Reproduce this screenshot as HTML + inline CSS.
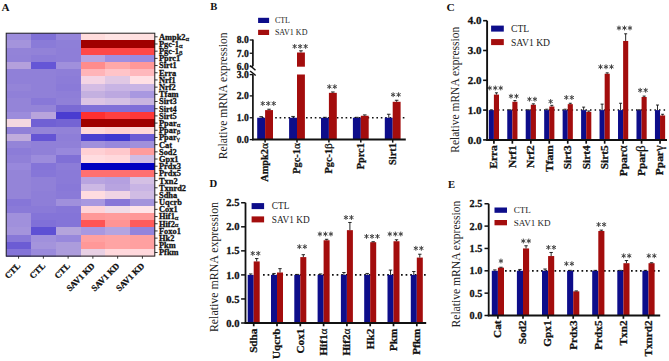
<!DOCTYPE html>
<html><head><meta charset="utf-8"><style>
html,body{margin:0;padding:0;background:#fff;}
body{width:669px;height:361px;overflow:hidden;font-family:"Liberation Serif", serif;}
svg{display:block;}
.b{stroke:#111;stroke-width:0.28px;}
</style></head><body>
<svg width="669" height="361" viewBox="0 0 669 361">
<rect width="669" height="361" fill="#fff"/>
<g id="A">
<text x="1.6" y="10.6" font-family="'Liberation Serif', serif" font-weight="bold" font-size="11.2" fill="#111">A</text>
<g shape-rendering="crispEdges">
<rect x="6.20" y="33.20" width="25.37" height="7.79" fill="#9c8cdc"/>
<rect x="30.97" y="33.20" width="25.37" height="7.79" fill="#7f70d6"/>
<rect x="55.73" y="33.20" width="25.37" height="7.79" fill="#9585da"/>
<rect x="80.50" y="33.20" width="25.37" height="7.79" fill="#ffdcdc"/>
<rect x="105.27" y="33.20" width="25.37" height="7.79" fill="#ffe4e4"/>
<rect x="130.03" y="33.20" width="25.37" height="7.79" fill="#ffe0e0"/>
<rect x="6.20" y="40.39" width="25.37" height="7.79" fill="#a494dc"/>
<rect x="30.97" y="40.39" width="25.37" height="7.79" fill="#8a7bd8"/>
<rect x="55.73" y="40.39" width="25.37" height="7.79" fill="#8e7fd8"/>
<rect x="80.50" y="40.39" width="25.37" height="7.79" fill="#a00000"/>
<rect x="105.27" y="40.39" width="25.37" height="7.79" fill="#a00000"/>
<rect x="130.03" y="40.39" width="25.37" height="7.79" fill="#a00000"/>
<rect x="6.20" y="47.58" width="25.37" height="7.79" fill="#9383d8"/>
<rect x="30.97" y="47.58" width="25.37" height="7.79" fill="#9282d8"/>
<rect x="55.73" y="47.58" width="25.37" height="7.79" fill="#8e7ed8"/>
<rect x="80.50" y="47.58" width="25.37" height="7.79" fill="#ff4848"/>
<rect x="105.27" y="47.58" width="25.37" height="7.79" fill="#ff4848"/>
<rect x="130.03" y="47.58" width="25.37" height="7.79" fill="#ff4848"/>
<rect x="6.20" y="54.77" width="25.37" height="7.79" fill="#9282d8"/>
<rect x="30.97" y="54.77" width="25.37" height="7.79" fill="#8c7cd8"/>
<rect x="55.73" y="54.77" width="25.37" height="7.79" fill="#8e7ed8"/>
<rect x="80.50" y="54.77" width="25.37" height="7.79" fill="#b8a4e0"/>
<rect x="105.27" y="54.77" width="25.37" height="7.79" fill="#a08ee0"/>
<rect x="130.03" y="54.77" width="25.37" height="7.79" fill="#9a8ae0"/>
<rect x="6.20" y="61.96" width="25.37" height="7.79" fill="#b4a0dc"/>
<rect x="30.97" y="61.96" width="25.37" height="7.79" fill="#6556d6"/>
<rect x="55.73" y="61.96" width="25.37" height="7.79" fill="#a090dc"/>
<rect x="80.50" y="61.96" width="25.37" height="7.79" fill="#ff8c8c"/>
<rect x="105.27" y="61.96" width="25.37" height="7.79" fill="#ffa8a8"/>
<rect x="130.03" y="61.96" width="25.37" height="7.79" fill="#ff9898"/>
<rect x="6.20" y="69.15" width="25.37" height="7.79" fill="#9080d8"/>
<rect x="30.97" y="69.15" width="25.37" height="7.79" fill="#9080d8"/>
<rect x="55.73" y="69.15" width="25.37" height="7.79" fill="#8e7ed8"/>
<rect x="80.50" y="69.15" width="25.37" height="7.79" fill="#ffb4b8"/>
<rect x="105.27" y="69.15" width="25.37" height="7.79" fill="#ffc4c8"/>
<rect x="130.03" y="69.15" width="25.37" height="7.79" fill="#ffb8bc"/>
<rect x="6.20" y="76.34" width="25.37" height="7.79" fill="#9080d8"/>
<rect x="30.97" y="76.34" width="25.37" height="7.79" fill="#9080d8"/>
<rect x="55.73" y="76.34" width="25.37" height="7.79" fill="#8c7cd8"/>
<rect x="80.50" y="76.34" width="25.37" height="7.79" fill="#f4d4e4"/>
<rect x="105.27" y="76.34" width="25.37" height="7.79" fill="#e0c8e4"/>
<rect x="130.03" y="76.34" width="25.37" height="7.79" fill="#ffe0e4"/>
<rect x="6.20" y="83.53" width="25.37" height="7.79" fill="#9484d8"/>
<rect x="30.97" y="83.53" width="25.37" height="7.79" fill="#9080d8"/>
<rect x="55.73" y="83.53" width="25.37" height="7.79" fill="#8a7ad8"/>
<rect x="80.50" y="83.53" width="25.37" height="7.79" fill="#d4bce4"/>
<rect x="105.27" y="83.53" width="25.37" height="7.79" fill="#c8b4e4"/>
<rect x="130.03" y="83.53" width="25.37" height="7.79" fill="#c8b4e4"/>
<rect x="6.20" y="90.72" width="25.37" height="7.79" fill="#9080d8"/>
<rect x="30.97" y="90.72" width="25.37" height="7.79" fill="#9080d8"/>
<rect x="55.73" y="90.72" width="25.37" height="7.79" fill="#8e7ed8"/>
<rect x="80.50" y="90.72" width="25.37" height="7.79" fill="#c4b0e0"/>
<rect x="105.27" y="90.72" width="25.37" height="7.79" fill="#bca8e0"/>
<rect x="130.03" y="90.72" width="25.37" height="7.79" fill="#a898e0"/>
<rect x="6.20" y="97.91" width="25.37" height="7.79" fill="#9484d8"/>
<rect x="30.97" y="97.91" width="25.37" height="7.79" fill="#8878d8"/>
<rect x="55.73" y="97.91" width="25.37" height="7.79" fill="#9080d8"/>
<rect x="80.50" y="97.91" width="25.37" height="7.79" fill="#dcc4e4"/>
<rect x="105.27" y="97.91" width="25.37" height="7.79" fill="#d4c0e4"/>
<rect x="130.03" y="97.91" width="25.37" height="7.79" fill="#c8b4e0"/>
<rect x="6.20" y="105.10" width="25.37" height="7.79" fill="#9484d8"/>
<rect x="30.97" y="105.10" width="25.37" height="7.79" fill="#9484d8"/>
<rect x="55.73" y="105.10" width="25.37" height="7.79" fill="#7a6ad4"/>
<rect x="80.50" y="105.10" width="25.37" height="7.79" fill="#8070d8"/>
<rect x="105.27" y="105.10" width="25.37" height="7.79" fill="#8070d8"/>
<rect x="130.03" y="105.10" width="25.37" height="7.79" fill="#7e6ed8"/>
<rect x="6.20" y="112.29" width="25.37" height="7.79" fill="#9c8cdc"/>
<rect x="30.97" y="112.29" width="25.37" height="7.79" fill="#b8a4dc"/>
<rect x="55.73" y="112.29" width="25.37" height="7.79" fill="#4a3cd0"/>
<rect x="80.50" y="112.29" width="25.37" height="7.79" fill="#ff3030"/>
<rect x="105.27" y="112.29" width="25.37" height="7.79" fill="#ff4040"/>
<rect x="130.03" y="112.29" width="25.37" height="7.79" fill="#ff3838"/>
<rect x="6.20" y="119.48" width="25.37" height="7.79" fill="#f4d8e0"/>
<rect x="30.97" y="119.48" width="25.37" height="7.79" fill="#7060d4"/>
<rect x="55.73" y="119.48" width="25.37" height="7.79" fill="#7464d4"/>
<rect x="80.50" y="119.48" width="25.37" height="7.79" fill="#a00000"/>
<rect x="105.27" y="119.48" width="25.37" height="7.79" fill="#a00000"/>
<rect x="130.03" y="119.48" width="25.37" height="7.79" fill="#a00000"/>
<rect x="6.20" y="126.67" width="25.37" height="7.79" fill="#9080d8"/>
<rect x="30.97" y="126.67" width="25.37" height="7.79" fill="#9484d8"/>
<rect x="55.73" y="126.67" width="25.37" height="7.79" fill="#9282d8"/>
<rect x="80.50" y="126.67" width="25.37" height="7.79" fill="#ffd8d8"/>
<rect x="105.27" y="126.67" width="25.37" height="7.79" fill="#ffd0d0"/>
<rect x="130.03" y="126.67" width="25.37" height="7.79" fill="#ffd8d8"/>
<rect x="6.20" y="133.86" width="25.37" height="7.79" fill="#c0acdc"/>
<rect x="30.97" y="133.86" width="25.37" height="7.79" fill="#6454d4"/>
<rect x="55.73" y="133.86" width="25.37" height="7.79" fill="#8e7ed8"/>
<rect x="80.50" y="133.86" width="25.37" height="7.79" fill="#4a40d0"/>
<rect x="105.27" y="133.86" width="25.37" height="7.79" fill="#4038d0"/>
<rect x="130.03" y="133.86" width="25.37" height="7.79" fill="#6c5cd4"/>
<rect x="6.20" y="141.05" width="25.37" height="7.79" fill="#9484d8"/>
<rect x="30.97" y="141.05" width="25.37" height="7.79" fill="#9080d8"/>
<rect x="55.73" y="141.05" width="25.37" height="7.79" fill="#9080d8"/>
<rect x="80.50" y="141.05" width="25.37" height="7.79" fill="#a090dc"/>
<rect x="105.27" y="141.05" width="25.37" height="7.79" fill="#9888dc"/>
<rect x="130.03" y="141.05" width="25.37" height="7.79" fill="#a090dc"/>
<rect x="6.20" y="148.25" width="25.37" height="7.79" fill="#8c7cd8"/>
<rect x="30.97" y="148.25" width="25.37" height="7.79" fill="#9080d8"/>
<rect x="55.73" y="148.25" width="25.37" height="7.79" fill="#9888dc"/>
<rect x="80.50" y="148.25" width="25.37" height="7.79" fill="#ffd0d4"/>
<rect x="105.27" y="148.25" width="25.37" height="7.79" fill="#ffc8cc"/>
<rect x="130.03" y="148.25" width="25.37" height="7.79" fill="#ff9c9c"/>
<rect x="6.20" y="155.44" width="25.37" height="7.79" fill="#9080d8"/>
<rect x="30.97" y="155.44" width="25.37" height="7.79" fill="#9c8cdc"/>
<rect x="55.73" y="155.44" width="25.37" height="7.79" fill="#8070d6"/>
<rect x="80.50" y="155.44" width="25.37" height="7.79" fill="#ffdce0"/>
<rect x="105.27" y="155.44" width="25.37" height="7.79" fill="#ffd8dc"/>
<rect x="130.03" y="155.44" width="25.37" height="7.79" fill="#d0bce4"/>
<rect x="6.20" y="162.63" width="25.37" height="7.79" fill="#9888dc"/>
<rect x="30.97" y="162.63" width="25.37" height="7.79" fill="#8474d8"/>
<rect x="55.73" y="162.63" width="25.37" height="7.79" fill="#8c7cd8"/>
<rect x="80.50" y="162.63" width="25.37" height="7.79" fill="#0000c0"/>
<rect x="105.27" y="162.63" width="25.37" height="7.79" fill="#0000c0"/>
<rect x="130.03" y="162.63" width="25.37" height="7.79" fill="#0000c0"/>
<rect x="6.20" y="169.82" width="25.37" height="7.79" fill="#9484d8"/>
<rect x="30.97" y="169.82" width="25.37" height="7.79" fill="#8676d8"/>
<rect x="55.73" y="169.82" width="25.37" height="7.79" fill="#8a7ad8"/>
<rect x="80.50" y="169.82" width="25.37" height="7.79" fill="#ff7070"/>
<rect x="105.27" y="169.82" width="25.37" height="7.79" fill="#ff7070"/>
<rect x="130.03" y="169.82" width="25.37" height="7.79" fill="#ff7070"/>
<rect x="6.20" y="177.01" width="25.37" height="7.79" fill="#9484d8"/>
<rect x="30.97" y="177.01" width="25.37" height="7.79" fill="#9080d8"/>
<rect x="55.73" y="177.01" width="25.37" height="7.79" fill="#8a7ad8"/>
<rect x="80.50" y="177.01" width="25.37" height="7.79" fill="#b8a4e0"/>
<rect x="105.27" y="177.01" width="25.37" height="7.79" fill="#b4a0e0"/>
<rect x="130.03" y="177.01" width="25.37" height="7.79" fill="#d4c0e4"/>
<rect x="6.20" y="184.20" width="25.37" height="7.79" fill="#9484d8"/>
<rect x="30.97" y="184.20" width="25.37" height="7.79" fill="#9080d8"/>
<rect x="55.73" y="184.20" width="25.37" height="7.79" fill="#8878d8"/>
<rect x="80.50" y="184.20" width="25.37" height="7.79" fill="#ccb8e4"/>
<rect x="105.27" y="184.20" width="25.37" height="7.79" fill="#b8a4e0"/>
<rect x="130.03" y="184.20" width="25.37" height="7.79" fill="#c8b4e4"/>
<rect x="6.20" y="191.39" width="25.37" height="7.79" fill="#9484d8"/>
<rect x="30.97" y="191.39" width="25.37" height="7.79" fill="#8e7ed8"/>
<rect x="55.73" y="191.39" width="25.37" height="7.79" fill="#8a7ad8"/>
<rect x="80.50" y="191.39" width="25.37" height="7.79" fill="#ffdce0"/>
<rect x="105.27" y="191.39" width="25.37" height="7.79" fill="#f0d4e4"/>
<rect x="130.03" y="191.39" width="25.37" height="7.79" fill="#d0bce4"/>
<rect x="6.20" y="198.58" width="25.37" height="7.79" fill="#8676d8"/>
<rect x="30.97" y="198.58" width="25.37" height="7.79" fill="#8e7ed8"/>
<rect x="55.73" y="198.58" width="25.37" height="7.79" fill="#a090dc"/>
<rect x="80.50" y="198.58" width="25.37" height="7.79" fill="#a898e0"/>
<rect x="105.27" y="198.58" width="25.37" height="7.79" fill="#8676d8"/>
<rect x="130.03" y="198.58" width="25.37" height="7.79" fill="#a494dc"/>
<rect x="6.20" y="205.77" width="25.37" height="7.79" fill="#8a7ad8"/>
<rect x="30.97" y="205.77" width="25.37" height="7.79" fill="#8a7ad8"/>
<rect x="55.73" y="205.77" width="25.37" height="7.79" fill="#8676d8"/>
<rect x="80.50" y="205.77" width="25.37" height="7.79" fill="#ffd4d8"/>
<rect x="105.27" y="205.77" width="25.37" height="7.79" fill="#f0dce8"/>
<rect x="130.03" y="205.77" width="25.37" height="7.79" fill="#ffe4e8"/>
<rect x="6.20" y="212.96" width="25.37" height="7.79" fill="#a090dc"/>
<rect x="30.97" y="212.96" width="25.37" height="7.79" fill="#8474d8"/>
<rect x="55.73" y="212.96" width="25.37" height="7.79" fill="#8474d8"/>
<rect x="80.50" y="212.96" width="25.37" height="7.79" fill="#ff9898"/>
<rect x="105.27" y="212.96" width="25.37" height="7.79" fill="#ff9c9c"/>
<rect x="130.03" y="212.96" width="25.37" height="7.79" fill="#ff9898"/>
<rect x="6.20" y="220.15" width="25.37" height="7.79" fill="#a090dc"/>
<rect x="30.97" y="220.15" width="25.37" height="7.79" fill="#8070d8"/>
<rect x="55.73" y="220.15" width="25.37" height="7.79" fill="#8474d8"/>
<rect x="80.50" y="220.15" width="25.37" height="7.79" fill="#ff5454"/>
<rect x="105.27" y="220.15" width="25.37" height="7.79" fill="#ff9494"/>
<rect x="130.03" y="220.15" width="25.37" height="7.79" fill="#ff5c5c"/>
<rect x="6.20" y="227.34" width="25.37" height="7.79" fill="#a494dc"/>
<rect x="30.97" y="227.34" width="25.37" height="7.79" fill="#5e50d4"/>
<rect x="55.73" y="227.34" width="25.37" height="7.79" fill="#b4a4dc"/>
<rect x="80.50" y="227.34" width="25.37" height="7.79" fill="#a898e0"/>
<rect x="105.27" y="227.34" width="25.37" height="7.79" fill="#b4a4e0"/>
<rect x="130.03" y="227.34" width="25.37" height="7.79" fill="#9484dc"/>
<rect x="6.20" y="234.53" width="25.37" height="7.79" fill="#8878d8"/>
<rect x="30.97" y="234.53" width="25.37" height="7.79" fill="#a090dc"/>
<rect x="55.73" y="234.53" width="25.37" height="7.79" fill="#9888dc"/>
<rect x="80.50" y="234.53" width="25.37" height="7.79" fill="#ffa0a0"/>
<rect x="105.27" y="234.53" width="25.37" height="7.79" fill="#ffa4a4"/>
<rect x="130.03" y="234.53" width="25.37" height="7.79" fill="#ffa0a0"/>
<rect x="6.20" y="241.72" width="25.37" height="7.79" fill="#6c5cd4"/>
<rect x="30.97" y="241.72" width="25.37" height="7.79" fill="#a494dc"/>
<rect x="55.73" y="241.72" width="25.37" height="7.79" fill="#ac9cdc"/>
<rect x="80.50" y="241.72" width="25.37" height="7.79" fill="#ff9898"/>
<rect x="105.27" y="241.72" width="25.37" height="7.79" fill="#ffa4a4"/>
<rect x="130.03" y="241.72" width="25.37" height="7.79" fill="#ffa0a0"/>
<rect x="6.20" y="248.91" width="25.37" height="7.79" fill="#8474d8"/>
<rect x="30.97" y="248.91" width="25.37" height="7.79" fill="#9a8adc"/>
<rect x="55.73" y="248.91" width="25.37" height="7.79" fill="#ac9cdc"/>
<rect x="80.50" y="248.91" width="25.37" height="7.79" fill="#e8d0e4"/>
<rect x="105.27" y="248.91" width="25.37" height="7.79" fill="#ffd8dc"/>
<rect x="130.03" y="248.91" width="25.37" height="7.79" fill="#ffd8dc"/>
</g>
<rect x="6.20" y="33.20" width="148.60" height="222.90" fill="none" stroke="#222" stroke-width="1.0"/>
<line x1="154.80" y1="36.80" x2="157.60" y2="36.80" stroke="#222" stroke-width="0.9"/>
<text x="159.00" y="39.70" font-family="'Liberation Serif', serif" class="b" font-weight="bold" font-size="8.4" fill="#111">Ampk2<tspan font-weight="normal" font-size="7.0" dy="0.8">α</tspan></text>
<line x1="154.80" y1="43.99" x2="157.60" y2="43.99" stroke="#222" stroke-width="0.9"/>
<text x="159.00" y="46.89" font-family="'Liberation Serif', serif" class="b" font-weight="bold" font-size="8.4" fill="#111">Pgc-1<tspan font-weight="normal" font-size="7.0" dy="0.8">α</tspan></text>
<line x1="154.80" y1="51.18" x2="157.60" y2="51.18" stroke="#222" stroke-width="0.9"/>
<text x="159.00" y="54.08" font-family="'Liberation Serif', serif" class="b" font-weight="bold" font-size="8.4" fill="#111">Pgc-1<tspan font-weight="normal" font-size="7.0" dy="0.8">β</tspan></text>
<line x1="154.80" y1="58.37" x2="157.60" y2="58.37" stroke="#222" stroke-width="0.9"/>
<text x="159.00" y="61.27" font-family="'Liberation Serif', serif" class="b" font-weight="bold" font-size="8.4" fill="#111">Pprc1</text>
<line x1="154.80" y1="65.56" x2="157.60" y2="65.56" stroke="#222" stroke-width="0.9"/>
<text x="159.00" y="68.46" font-family="'Liberation Serif', serif" class="b" font-weight="bold" font-size="8.4" fill="#111">Sirt1</text>
<line x1="154.80" y1="72.75" x2="157.60" y2="72.75" stroke="#222" stroke-width="0.9"/>
<text x="159.00" y="75.65" font-family="'Liberation Serif', serif" class="b" font-weight="bold" font-size="8.4" fill="#111">Erra</text>
<line x1="154.80" y1="79.94" x2="157.60" y2="79.94" stroke="#222" stroke-width="0.9"/>
<text x="159.00" y="82.84" font-family="'Liberation Serif', serif" class="b" font-weight="bold" font-size="8.4" fill="#111">Nrf1</text>
<line x1="154.80" y1="87.13" x2="157.60" y2="87.13" stroke="#222" stroke-width="0.9"/>
<text x="159.00" y="90.03" font-family="'Liberation Serif', serif" class="b" font-weight="bold" font-size="8.4" fill="#111">Nrf2</text>
<line x1="154.80" y1="94.32" x2="157.60" y2="94.32" stroke="#222" stroke-width="0.9"/>
<text x="159.00" y="97.22" font-family="'Liberation Serif', serif" class="b" font-weight="bold" font-size="8.4" fill="#111">Tfam</text>
<line x1="154.80" y1="101.51" x2="157.60" y2="101.51" stroke="#222" stroke-width="0.9"/>
<text x="159.00" y="104.41" font-family="'Liberation Serif', serif" class="b" font-weight="bold" font-size="8.4" fill="#111">Sirt3</text>
<line x1="154.80" y1="108.70" x2="157.60" y2="108.70" stroke="#222" stroke-width="0.9"/>
<text x="159.00" y="111.60" font-family="'Liberation Serif', serif" class="b" font-weight="bold" font-size="8.4" fill="#111">Sirt4</text>
<line x1="154.80" y1="115.89" x2="157.60" y2="115.89" stroke="#222" stroke-width="0.9"/>
<text x="159.00" y="118.79" font-family="'Liberation Serif', serif" class="b" font-weight="bold" font-size="8.4" fill="#111">Sirt5</text>
<line x1="154.80" y1="123.08" x2="157.60" y2="123.08" stroke="#222" stroke-width="0.9"/>
<text x="159.00" y="125.98" font-family="'Liberation Serif', serif" class="b" font-weight="bold" font-size="8.4" fill="#111">Ppar<tspan font-weight="normal" font-size="7.0" dy="0.8">α</tspan></text>
<line x1="154.80" y1="130.27" x2="157.60" y2="130.27" stroke="#222" stroke-width="0.9"/>
<text x="159.00" y="133.17" font-family="'Liberation Serif', serif" class="b" font-weight="bold" font-size="8.4" fill="#111">Ppar<tspan font-weight="normal" font-size="7.0" dy="0.8">β</tspan></text>
<line x1="154.80" y1="137.46" x2="157.60" y2="137.46" stroke="#222" stroke-width="0.9"/>
<text x="159.00" y="140.36" font-family="'Liberation Serif', serif" class="b" font-weight="bold" font-size="8.4" fill="#111">Ppar<tspan font-weight="normal" font-size="7.0" dy="0.8">γ</tspan></text>
<line x1="154.80" y1="144.65" x2="157.60" y2="144.65" stroke="#222" stroke-width="0.9"/>
<text x="159.00" y="147.55" font-family="'Liberation Serif', serif" class="b" font-weight="bold" font-size="8.4" fill="#111">Cat</text>
<line x1="154.80" y1="151.84" x2="157.60" y2="151.84" stroke="#222" stroke-width="0.9"/>
<text x="159.00" y="154.74" font-family="'Liberation Serif', serif" class="b" font-weight="bold" font-size="8.4" fill="#111">Sod2</text>
<line x1="154.80" y1="159.03" x2="157.60" y2="159.03" stroke="#222" stroke-width="0.9"/>
<text x="159.00" y="161.93" font-family="'Liberation Serif', serif" class="b" font-weight="bold" font-size="8.4" fill="#111">Gpx1</text>
<line x1="154.80" y1="166.22" x2="157.60" y2="166.22" stroke="#222" stroke-width="0.9"/>
<text x="159.00" y="169.12" font-family="'Liberation Serif', serif" class="b" font-weight="bold" font-size="8.4" fill="#111">Prdx3</text>
<line x1="154.80" y1="173.41" x2="157.60" y2="173.41" stroke="#222" stroke-width="0.9"/>
<text x="159.00" y="176.31" font-family="'Liberation Serif', serif" class="b" font-weight="bold" font-size="8.4" fill="#111">Prdx5</text>
<line x1="154.80" y1="180.60" x2="157.60" y2="180.60" stroke="#222" stroke-width="0.9"/>
<text x="159.00" y="183.50" font-family="'Liberation Serif', serif" class="b" font-weight="bold" font-size="8.4" fill="#111">Txn2</text>
<line x1="154.80" y1="187.79" x2="157.60" y2="187.79" stroke="#222" stroke-width="0.9"/>
<text x="159.00" y="190.69" font-family="'Liberation Serif', serif" class="b" font-weight="bold" font-size="8.4" fill="#111">Txnrd2</text>
<line x1="154.80" y1="194.98" x2="157.60" y2="194.98" stroke="#222" stroke-width="0.9"/>
<text x="159.00" y="197.88" font-family="'Liberation Serif', serif" class="b" font-weight="bold" font-size="8.4" fill="#111">Sdha</text>
<line x1="154.80" y1="202.17" x2="157.60" y2="202.17" stroke="#222" stroke-width="0.9"/>
<text x="159.00" y="205.07" font-family="'Liberation Serif', serif" class="b" font-weight="bold" font-size="8.4" fill="#111">Uqcrb</text>
<line x1="154.80" y1="209.36" x2="157.60" y2="209.36" stroke="#222" stroke-width="0.9"/>
<text x="159.00" y="212.26" font-family="'Liberation Serif', serif" class="b" font-weight="bold" font-size="8.4" fill="#111">Cox1</text>
<line x1="154.80" y1="216.55" x2="157.60" y2="216.55" stroke="#222" stroke-width="0.9"/>
<text x="159.00" y="219.45" font-family="'Liberation Serif', serif" class="b" font-weight="bold" font-size="8.4" fill="#111">Hif1<tspan font-weight="normal" font-size="7.0" dy="0.8">α</tspan></text>
<line x1="154.80" y1="223.74" x2="157.60" y2="223.74" stroke="#222" stroke-width="0.9"/>
<text x="159.00" y="226.64" font-family="'Liberation Serif', serif" class="b" font-weight="bold" font-size="8.4" fill="#111">Hif2<tspan font-weight="normal" font-size="7.0" dy="0.8">α</tspan></text>
<line x1="154.80" y1="230.93" x2="157.60" y2="230.93" stroke="#222" stroke-width="0.9"/>
<text x="159.00" y="233.83" font-family="'Liberation Serif', serif" class="b" font-weight="bold" font-size="8.4" fill="#111">Foxo1</text>
<line x1="154.80" y1="238.12" x2="157.60" y2="238.12" stroke="#222" stroke-width="0.9"/>
<text x="159.00" y="241.02" font-family="'Liberation Serif', serif" class="b" font-weight="bold" font-size="8.4" fill="#111">Hk2</text>
<line x1="154.80" y1="245.31" x2="157.60" y2="245.31" stroke="#222" stroke-width="0.9"/>
<text x="159.00" y="248.21" font-family="'Liberation Serif', serif" class="b" font-weight="bold" font-size="8.4" fill="#111">Pkm</text>
<line x1="154.80" y1="252.50" x2="157.60" y2="252.50" stroke="#222" stroke-width="0.9"/>
<text x="159.00" y="255.40" font-family="'Liberation Serif', serif" class="b" font-weight="bold" font-size="8.4" fill="#111">Pfkm</text>
<line x1="18.58" y1="256.10" x2="18.58" y2="258.70" stroke="#222" stroke-width="0.9"/>
<text transform="translate(20.98,266.50) rotate(-45)" text-anchor="end" font-family="'Liberation Serif', serif" class="b" font-weight="bold" font-size="8.7" fill="#111">CTL</text>
<line x1="43.35" y1="256.10" x2="43.35" y2="258.70" stroke="#222" stroke-width="0.9"/>
<text transform="translate(45.75,266.50) rotate(-45)" text-anchor="end" font-family="'Liberation Serif', serif" class="b" font-weight="bold" font-size="8.7" fill="#111">CTL</text>
<line x1="68.12" y1="256.10" x2="68.12" y2="258.70" stroke="#222" stroke-width="0.9"/>
<text transform="translate(70.52,266.50) rotate(-45)" text-anchor="end" font-family="'Liberation Serif', serif" class="b" font-weight="bold" font-size="8.7" fill="#111">CTL</text>
<line x1="92.88" y1="256.10" x2="92.88" y2="258.70" stroke="#222" stroke-width="0.9"/>
<text transform="translate(95.28,266.50) rotate(-45)" text-anchor="end" font-family="'Liberation Serif', serif" class="b" font-weight="bold" font-size="8.7" fill="#111">SAV1 KD</text>
<line x1="117.65" y1="256.10" x2="117.65" y2="258.70" stroke="#222" stroke-width="0.9"/>
<text transform="translate(120.05,266.50) rotate(-45)" text-anchor="end" font-family="'Liberation Serif', serif" class="b" font-weight="bold" font-size="8.7" fill="#111">SAV1 KD</text>
<line x1="142.42" y1="256.10" x2="142.42" y2="258.70" stroke="#222" stroke-width="0.9"/>
<text transform="translate(144.82,266.50) rotate(-45)" text-anchor="end" font-family="'Liberation Serif', serif" class="b" font-weight="bold" font-size="8.7" fill="#111">SAV1 KD</text>
</g>
<g id="B">
<text x="210.2" y="10.4" font-family="'Liberation Serif', serif" font-weight="bold" font-size="10.6" fill="#111">B</text>
<line x1="252.90" y1="140.30" x2="252.90" y2="74.6" stroke="#111" stroke-width="1.7"/>
<line x1="252.90" y1="66.2" x2="252.90" y2="39.6" stroke="#111" stroke-width="1.7"/>
<line x1="250.1" y1="65.5" x2="255.5" y2="70.2" stroke="#111" stroke-width="1.5"/>
<line x1="250.1" y1="71.0" x2="255.7" y2="75.5" stroke="#111" stroke-width="1.5"/>
<line x1="249.70" y1="139.60" x2="252.90" y2="139.60" stroke="#111" stroke-width="1.3"/>
<text x="248.70" y="142.86" text-anchor="end" font-family="'Liberation Serif', serif" class="b" font-weight="bold" font-size="9.6" fill="#111">0.0</text>
<line x1="249.70" y1="117.75" x2="252.90" y2="117.75" stroke="#111" stroke-width="1.3"/>
<text x="248.70" y="121.01" text-anchor="end" font-family="'Liberation Serif', serif" class="b" font-weight="bold" font-size="9.6" fill="#111">1.0</text>
<line x1="249.70" y1="95.90" x2="252.90" y2="95.90" stroke="#111" stroke-width="1.3"/>
<text x="248.70" y="99.16" text-anchor="end" font-family="'Liberation Serif', serif" class="b" font-weight="bold" font-size="9.6" fill="#111">2.0</text>
<line x1="249.70" y1="74.60" x2="252.90" y2="74.60" stroke="#111" stroke-width="1.3"/>
<text x="248.70" y="77.86" text-anchor="end" font-family="'Liberation Serif', serif" class="b" font-weight="bold" font-size="9.6" fill="#111">3.0</text>
<line x1="249.70" y1="66.50" x2="252.90" y2="66.50" stroke="#111" stroke-width="1.3"/>
<text x="248.70" y="69.76" text-anchor="end" font-family="'Liberation Serif', serif" class="b" font-weight="bold" font-size="9.6" fill="#111">6.0</text>
<line x1="249.70" y1="53.25" x2="252.90" y2="53.25" stroke="#111" stroke-width="1.3"/>
<text x="248.70" y="56.51" text-anchor="end" font-family="'Liberation Serif', serif" class="b" font-weight="bold" font-size="9.6" fill="#111">7.0</text>
<line x1="249.70" y1="40.00" x2="252.90" y2="40.00" stroke="#111" stroke-width="1.3"/>
<text x="248.70" y="43.26" text-anchor="end" font-family="'Liberation Serif', serif" class="b" font-weight="bold" font-size="9.6" fill="#111">8.0</text>
<text transform="translate(227.20,159.30) rotate(-90)" font-family="'Liberation Serif', serif" font-size="11.6" fill="#222">Relative mRNA expression</text>
<rect x="258.10" y="17.80" width="11.00" height="5.20" fill="#0d0d8a"/>
<rect x="258.10" y="29.80" width="11.00" height="5.20" fill="#a30d0d"/>
<text x="274.90" y="23.28" font-family="'Liberation Serif', serif" font-size="8.0" fill="#222">CTL</text>
<text x="274.90" y="35.28" font-family="'Liberation Serif', serif" font-size="8.0" fill="#222">SAV1 KD</text>
<path d="M262.00 116.95h1.6v1.6h-1.6zM266.40 116.95h1.6v1.6h-1.6zM270.80 116.95h1.6v1.6h-1.6zM275.20 116.95h1.6v1.6h-1.6zM279.60 116.95h1.6v1.6h-1.6zM284.00 116.95h1.6v1.6h-1.6zM288.40 116.95h1.6v1.6h-1.6zM292.80 116.95h1.6v1.6h-1.6zM297.20 116.95h1.6v1.6h-1.6zM301.60 116.95h1.6v1.6h-1.6zM306.00 116.95h1.6v1.6h-1.6zM310.40 116.95h1.6v1.6h-1.6zM314.80 116.95h1.6v1.6h-1.6zM319.20 116.95h1.6v1.6h-1.6zM323.60 116.95h1.6v1.6h-1.6zM328.00 116.95h1.6v1.6h-1.6zM332.40 116.95h1.6v1.6h-1.6zM336.80 116.95h1.6v1.6h-1.6zM341.20 116.95h1.6v1.6h-1.6zM345.60 116.95h1.6v1.6h-1.6zM350.00 116.95h1.6v1.6h-1.6zM354.40 116.95h1.6v1.6h-1.6zM358.80 116.95h1.6v1.6h-1.6zM363.20 116.95h1.6v1.6h-1.6zM367.60 116.95h1.6v1.6h-1.6zM372.00 116.95h1.6v1.6h-1.6zM376.40 116.95h1.6v1.6h-1.6zM380.80 116.95h1.6v1.6h-1.6zM385.20 116.95h1.6v1.6h-1.6zM389.60 116.95h1.6v1.6h-1.6zM394.00 116.95h1.6v1.6h-1.6zM398.40 116.95h1.6v1.6h-1.6zM402.80 116.95h1.6v1.6h-1.6z" fill="#111"/>
<rect x="257.20" y="117.75" width="7.90" height="21.85" fill="#0d0d8a"/>
<line x1="261.15" y1="117.75" x2="261.15" y2="116.66" stroke="#111" stroke-width="0.9"/>
<line x1="259.35" y1="116.66" x2="262.95" y2="116.66" stroke="#111" stroke-width="0.9"/>
<rect x="265.10" y="110.10" width="7.90" height="29.50" fill="#a30d0d"/>
<line x1="269.05" y1="110.10" x2="269.05" y2="109.23" stroke="#111" stroke-width="0.9"/>
<line x1="267.25" y1="109.23" x2="270.85" y2="109.23" stroke="#111" stroke-width="0.9"/>
<path d="M262.75 101.10L262.75 105.90M260.67 102.30L264.83 104.70M264.83 102.30L260.67 104.70M268.25 101.10L268.25 105.90M266.17 102.30L270.33 104.70M270.33 102.30L266.17 104.70M273.75 101.10L273.75 105.90M271.67 102.30L275.83 104.70M275.83 102.30L271.67 104.70" stroke="#444" stroke-width="1.0" fill="none"/>
<rect x="289.10" y="117.75" width="7.90" height="21.85" fill="#0d0d8a"/>
<line x1="293.05" y1="117.75" x2="293.05" y2="116.44" stroke="#111" stroke-width="0.9"/>
<line x1="291.25" y1="116.44" x2="294.85" y2="116.44" stroke="#111" stroke-width="0.9"/>
<rect x="297.00" y="74.5" width="7.90" height="65.10" fill="#a30d0d"/>
<rect x="297.00" y="52.5" width="7.90" height="14.2" fill="#a30d0d"/>
<line x1="300.95" y1="52.50" x2="300.95" y2="50.80" stroke="#111" stroke-width="0.9"/>
<line x1="299.15" y1="50.80" x2="302.75" y2="50.80" stroke="#111" stroke-width="0.9"/>
<path d="M294.65 44.00L294.65 48.80M292.57 45.20L296.73 47.60M296.73 45.20L292.57 47.60M300.15 44.00L300.15 48.80M298.07 45.20L302.23 47.60M302.23 45.20L298.07 47.60M305.65 44.00L305.65 48.80M303.57 45.20L307.73 47.60M307.73 45.20L303.57 47.60" stroke="#444" stroke-width="1.0" fill="none"/>
<rect x="321.00" y="117.75" width="7.90" height="21.85" fill="#0d0d8a"/>
<line x1="324.95" y1="117.75" x2="324.95" y2="117.31" stroke="#111" stroke-width="0.9"/>
<line x1="323.15" y1="117.31" x2="326.75" y2="117.31" stroke="#111" stroke-width="0.9"/>
<rect x="328.90" y="92.84" width="7.90" height="46.76" fill="#a30d0d"/>
<line x1="332.85" y1="92.84" x2="332.85" y2="91.97" stroke="#111" stroke-width="0.9"/>
<line x1="331.05" y1="91.97" x2="334.65" y2="91.97" stroke="#111" stroke-width="0.9"/>
<path d="M329.30 84.30L329.30 89.10M327.22 85.50L331.38 87.90M331.38 85.50L327.22 87.90M334.80 84.30L334.80 89.10M332.72 85.50L336.88 87.90M336.88 85.50L332.72 87.90" stroke="#444" stroke-width="1.0" fill="none"/>
<rect x="352.90" y="117.75" width="7.90" height="21.85" fill="#0d0d8a"/>
<line x1="356.85" y1="117.75" x2="356.85" y2="117.31" stroke="#111" stroke-width="0.9"/>
<line x1="355.05" y1="117.31" x2="358.65" y2="117.31" stroke="#111" stroke-width="0.9"/>
<rect x="360.80" y="115.78" width="7.90" height="23.82" fill="#a30d0d"/>
<line x1="364.75" y1="115.78" x2="364.75" y2="114.91" stroke="#111" stroke-width="0.9"/>
<line x1="362.95" y1="114.91" x2="366.55" y2="114.91" stroke="#111" stroke-width="0.9"/>
<rect x="384.80" y="117.75" width="7.90" height="21.85" fill="#0d0d8a"/>
<line x1="388.75" y1="117.75" x2="388.75" y2="114.25" stroke="#111" stroke-width="0.9"/>
<line x1="386.95" y1="114.25" x2="390.55" y2="114.25" stroke="#111" stroke-width="0.9"/>
<rect x="392.70" y="101.80" width="7.90" height="37.80" fill="#a30d0d"/>
<line x1="396.65" y1="101.80" x2="396.65" y2="100.27" stroke="#111" stroke-width="0.9"/>
<line x1="394.85" y1="100.27" x2="398.45" y2="100.27" stroke="#111" stroke-width="0.9"/>
<path d="M393.10 92.30L393.10 97.10M391.02 93.50L395.18 95.90M395.18 93.50L391.02 95.90M398.60 92.30L398.60 97.10M396.52 93.50L400.68 95.90M400.68 93.50L396.52 95.90" stroke="#444" stroke-width="1.0" fill="none"/>
<line x1="252.10" y1="139.60" x2="405.8" y2="139.60" stroke="#111" stroke-width="2.0"/>
<line x1="265.10" y1="139.60" x2="265.10" y2="142.60" stroke="#111" stroke-width="1.5"/>
<text transform="translate(268.19,143.20) rotate(-90)" text-anchor="end" font-family="'Liberation Serif', serif" class="b" font-weight="bold" font-size="10.3" fill="#111">Ampk2<tspan font-weight="normal" font-size="11.3">α</tspan></text>
<line x1="297.00" y1="139.60" x2="297.00" y2="142.60" stroke="#111" stroke-width="1.5"/>
<text transform="translate(300.09,143.20) rotate(-90)" text-anchor="end" font-family="'Liberation Serif', serif" class="b" font-weight="bold" font-size="10.3" fill="#111">Pgc-1<tspan font-weight="normal" font-size="11.3">α</tspan></text>
<line x1="328.90" y1="139.60" x2="328.90" y2="142.60" stroke="#111" stroke-width="1.5"/>
<text transform="translate(331.99,143.20) rotate(-90)" text-anchor="end" font-family="'Liberation Serif', serif" class="b" font-weight="bold" font-size="10.3" fill="#111">Pgc-1<tspan font-weight="normal" font-size="11.3">β</tspan></text>
<line x1="360.80" y1="139.60" x2="360.80" y2="142.60" stroke="#111" stroke-width="1.5"/>
<text transform="translate(363.89,143.20) rotate(-90)" text-anchor="end" font-family="'Liberation Serif', serif" class="b" font-weight="bold" font-size="10.3" fill="#111">Pprc1</text>
<line x1="392.70" y1="139.60" x2="392.70" y2="142.60" stroke="#111" stroke-width="1.5"/>
<text transform="translate(395.79,143.20) rotate(-90)" text-anchor="end" font-family="'Liberation Serif', serif" class="b" font-weight="bold" font-size="10.3" fill="#111">Sirt1</text>
</g>
<g id="C">
<text x="446.6" y="10.8" font-family="'Liberation Serif', serif" font-weight="bold" font-size="11.4" fill="#111">C</text>
<line x1="487.10" y1="140.60" x2="487.10" y2="20.70" stroke="#111" stroke-width="1.9"/>
<line x1="483.10" y1="139.90" x2="487.10" y2="139.90" stroke="#111" stroke-width="1.6"/>
<text x="481.50" y="143.64" text-anchor="end" font-family="'Liberation Serif', serif" class="b" font-weight="bold" font-size="11.0" fill="#111">0.0</text>
<line x1="483.10" y1="110.10" x2="487.10" y2="110.10" stroke="#111" stroke-width="1.6"/>
<text x="481.50" y="113.84" text-anchor="end" font-family="'Liberation Serif', serif" class="b" font-weight="bold" font-size="11.0" fill="#111">1.0</text>
<line x1="483.10" y1="80.30" x2="487.10" y2="80.30" stroke="#111" stroke-width="1.6"/>
<text x="481.50" y="84.04" text-anchor="end" font-family="'Liberation Serif', serif" class="b" font-weight="bold" font-size="11.0" fill="#111">2.0</text>
<line x1="483.10" y1="50.50" x2="487.10" y2="50.50" stroke="#111" stroke-width="1.6"/>
<text x="481.50" y="54.24" text-anchor="end" font-family="'Liberation Serif', serif" class="b" font-weight="bold" font-size="11.0" fill="#111">3.0</text>
<line x1="483.10" y1="20.70" x2="487.10" y2="20.70" stroke="#111" stroke-width="1.6"/>
<text x="481.50" y="24.44" text-anchor="end" font-family="'Liberation Serif', serif" class="b" font-weight="bold" font-size="11.0" fill="#111">4.0</text>
<text transform="translate(458.80,152.70) rotate(-90)" font-family="'Liberation Serif', serif" font-size="11.5" fill="#222">Relative mRNA expression</text>
<rect x="491.10" y="25.60" width="12.70" height="6.00" fill="#0d0d8a"/>
<rect x="491.10" y="39.10" width="12.70" height="6.00" fill="#a30d0d"/>
<text x="511.00" y="32.06" font-family="'Liberation Serif', serif" font-size="9.6" fill="#222">CTL</text>
<text x="511.00" y="45.56" font-family="'Liberation Serif', serif" font-size="9.6" fill="#222">SAV1 KD</text>
<path d="M498.00 109.35h1.5v1.5h-1.5zM502.60 109.35h1.5v1.5h-1.5zM507.20 109.35h1.5v1.5h-1.5zM511.80 109.35h1.5v1.5h-1.5zM516.40 109.35h1.5v1.5h-1.5zM521.00 109.35h1.5v1.5h-1.5zM525.60 109.35h1.5v1.5h-1.5zM530.20 109.35h1.5v1.5h-1.5zM534.80 109.35h1.5v1.5h-1.5zM539.40 109.35h1.5v1.5h-1.5zM544.00 109.35h1.5v1.5h-1.5zM548.60 109.35h1.5v1.5h-1.5zM553.20 109.35h1.5v1.5h-1.5zM557.80 109.35h1.5v1.5h-1.5zM562.40 109.35h1.5v1.5h-1.5zM567.00 109.35h1.5v1.5h-1.5zM571.60 109.35h1.5v1.5h-1.5zM576.20 109.35h1.5v1.5h-1.5zM580.80 109.35h1.5v1.5h-1.5zM585.40 109.35h1.5v1.5h-1.5zM590.00 109.35h1.5v1.5h-1.5zM594.60 109.35h1.5v1.5h-1.5zM599.20 109.35h1.5v1.5h-1.5zM603.80 109.35h1.5v1.5h-1.5zM608.40 109.35h1.5v1.5h-1.5zM613.00 109.35h1.5v1.5h-1.5zM617.60 109.35h1.5v1.5h-1.5zM622.20 109.35h1.5v1.5h-1.5zM626.80 109.35h1.5v1.5h-1.5zM631.40 109.35h1.5v1.5h-1.5zM636.00 109.35h1.5v1.5h-1.5zM640.60 109.35h1.5v1.5h-1.5zM645.20 109.35h1.5v1.5h-1.5zM649.80 109.35h1.5v1.5h-1.5zM654.40 109.35h1.5v1.5h-1.5zM659.00 109.35h1.5v1.5h-1.5zM663.60 109.35h1.5v1.5h-1.5z" fill="#111"/>
<rect x="488.80" y="110.10" width="5.10" height="29.80" fill="#0d0d8a"/>
<line x1="491.35" y1="110.10" x2="491.35" y2="109.80" stroke="#111" stroke-width="0.9"/>
<line x1="489.85" y1="109.80" x2="492.85" y2="109.80" stroke="#111" stroke-width="0.9"/>
<rect x="493.90" y="94.60" width="5.10" height="45.30" fill="#a30d0d"/>
<line x1="496.45" y1="94.60" x2="496.45" y2="92.82" stroke="#111" stroke-width="0.9"/>
<line x1="494.95" y1="92.82" x2="497.95" y2="92.82" stroke="#111" stroke-width="0.9"/>
<path d="M489.75 85.60L489.75 90.40M487.67 86.80L491.83 89.20M491.83 86.80L487.67 89.20M495.25 85.60L495.25 90.40M493.17 86.80L497.33 89.20M497.33 86.80L493.17 89.20M500.75 85.60L500.75 90.40M498.67 86.80L502.83 89.20M502.83 86.80L498.67 89.20" stroke="#444" stroke-width="1.0" fill="none"/>
<rect x="507.26" y="110.10" width="5.10" height="29.80" fill="#0d0d8a"/>
<line x1="509.81" y1="110.10" x2="509.81" y2="109.80" stroke="#111" stroke-width="0.9"/>
<line x1="508.31" y1="109.80" x2="511.31" y2="109.80" stroke="#111" stroke-width="0.9"/>
<rect x="512.36" y="101.76" width="5.10" height="38.14" fill="#a30d0d"/>
<line x1="514.91" y1="101.76" x2="514.91" y2="100.56" stroke="#111" stroke-width="0.9"/>
<line x1="513.41" y1="100.56" x2="516.41" y2="100.56" stroke="#111" stroke-width="0.9"/>
<path d="M510.96 93.80L510.96 98.60M508.88 95.00L513.04 97.40M513.04 95.00L508.88 97.40M516.46 93.80L516.46 98.60M514.38 95.00L518.54 97.40M518.54 95.00L514.38 97.40" stroke="#444" stroke-width="1.0" fill="none"/>
<rect x="525.72" y="110.10" width="5.10" height="29.80" fill="#0d0d8a"/>
<line x1="528.27" y1="110.10" x2="528.27" y2="109.80" stroke="#111" stroke-width="0.9"/>
<line x1="526.77" y1="109.80" x2="529.77" y2="109.80" stroke="#111" stroke-width="0.9"/>
<rect x="530.82" y="104.74" width="5.10" height="35.16" fill="#a30d0d"/>
<line x1="533.37" y1="104.74" x2="533.37" y2="103.84" stroke="#111" stroke-width="0.9"/>
<line x1="531.87" y1="103.84" x2="534.87" y2="103.84" stroke="#111" stroke-width="0.9"/>
<path d="M529.42 96.80L529.42 101.60M527.34 98.00L531.50 100.40M531.50 98.00L527.34 100.40M534.92 96.80L534.92 101.60M532.84 98.00L537.00 100.40M537.00 98.00L532.84 100.40" stroke="#444" stroke-width="1.0" fill="none"/>
<rect x="544.18" y="110.10" width="5.10" height="29.80" fill="#0d0d8a"/>
<line x1="546.73" y1="110.10" x2="546.73" y2="109.21" stroke="#111" stroke-width="0.9"/>
<line x1="545.23" y1="109.21" x2="548.23" y2="109.21" stroke="#111" stroke-width="0.9"/>
<rect x="549.28" y="106.52" width="5.10" height="33.38" fill="#a30d0d"/>
<line x1="551.83" y1="106.52" x2="551.83" y2="105.33" stroke="#111" stroke-width="0.9"/>
<line x1="550.33" y1="105.33" x2="553.33" y2="105.33" stroke="#111" stroke-width="0.9"/>
<path d="M550.63 99.10L550.63 103.90M548.55 100.30L552.71 102.70M552.71 100.30L548.55 102.70" stroke="#444" stroke-width="1.0" fill="none"/>
<rect x="562.64" y="110.10" width="5.10" height="29.80" fill="#0d0d8a"/>
<line x1="565.19" y1="110.10" x2="565.19" y2="109.21" stroke="#111" stroke-width="0.9"/>
<line x1="563.69" y1="109.21" x2="566.69" y2="109.21" stroke="#111" stroke-width="0.9"/>
<rect x="567.74" y="104.14" width="5.10" height="35.76" fill="#a30d0d"/>
<line x1="570.29" y1="104.14" x2="570.29" y2="103.25" stroke="#111" stroke-width="0.9"/>
<line x1="568.79" y1="103.25" x2="571.79" y2="103.25" stroke="#111" stroke-width="0.9"/>
<path d="M566.34 95.10L566.34 99.90M564.26 96.30L568.42 98.70M568.42 96.30L564.26 98.70M571.84 95.10L571.84 99.90M569.76 96.30L573.92 98.70M573.92 96.30L569.76 98.70" stroke="#444" stroke-width="1.0" fill="none"/>
<rect x="581.10" y="110.10" width="5.10" height="29.80" fill="#0d0d8a"/>
<line x1="583.65" y1="110.10" x2="583.65" y2="107.12" stroke="#111" stroke-width="0.9"/>
<line x1="582.15" y1="107.12" x2="585.15" y2="107.12" stroke="#111" stroke-width="0.9"/>
<rect x="586.20" y="111.89" width="5.10" height="28.01" fill="#a30d0d"/>
<line x1="588.75" y1="111.89" x2="588.75" y2="110.99" stroke="#111" stroke-width="0.9"/>
<line x1="587.25" y1="110.99" x2="590.25" y2="110.99" stroke="#111" stroke-width="0.9"/>
<rect x="599.56" y="110.10" width="5.10" height="29.80" fill="#0d0d8a"/>
<line x1="602.11" y1="110.10" x2="602.11" y2="104.14" stroke="#111" stroke-width="0.9"/>
<line x1="600.61" y1="104.14" x2="603.61" y2="104.14" stroke="#111" stroke-width="0.9"/>
<rect x="604.66" y="73.74" width="5.10" height="66.16" fill="#a30d0d"/>
<line x1="607.21" y1="73.74" x2="607.21" y2="72.85" stroke="#111" stroke-width="0.9"/>
<line x1="605.71" y1="72.85" x2="608.71" y2="72.85" stroke="#111" stroke-width="0.9"/>
<path d="M600.51 64.40L600.51 69.20M598.43 65.60L602.59 68.00M602.59 65.60L598.43 68.00M606.01 64.40L606.01 69.20M603.93 65.60L608.09 68.00M608.09 65.60L603.93 68.00M611.51 64.40L611.51 69.20M609.43 65.60L613.59 68.00M613.59 65.60L609.43 68.00" stroke="#444" stroke-width="1.0" fill="none"/>
<rect x="618.02" y="110.10" width="5.10" height="29.80" fill="#0d0d8a"/>
<line x1="620.57" y1="110.10" x2="620.57" y2="103.25" stroke="#111" stroke-width="0.9"/>
<line x1="619.07" y1="103.25" x2="622.07" y2="103.25" stroke="#111" stroke-width="0.9"/>
<rect x="623.12" y="40.96" width="5.10" height="98.94" fill="#a30d0d"/>
<line x1="625.67" y1="40.96" x2="625.67" y2="33.81" stroke="#111" stroke-width="0.9"/>
<line x1="624.17" y1="33.81" x2="627.17" y2="33.81" stroke="#111" stroke-width="0.9"/>
<path d="M618.97 25.60L618.97 30.40M616.89 26.80L621.05 29.20M621.05 26.80L616.89 29.20M624.47 25.60L624.47 30.40M622.39 26.80L626.55 29.20M626.55 26.80L622.39 29.20M629.97 25.60L629.97 30.40M627.89 26.80L632.05 29.20M632.05 26.80L627.89 29.20" stroke="#444" stroke-width="1.0" fill="none"/>
<rect x="636.48" y="110.10" width="5.10" height="29.80" fill="#0d0d8a"/>
<line x1="639.03" y1="110.10" x2="639.03" y2="109.80" stroke="#111" stroke-width="0.9"/>
<line x1="637.53" y1="109.80" x2="640.53" y2="109.80" stroke="#111" stroke-width="0.9"/>
<rect x="641.58" y="96.99" width="5.10" height="42.91" fill="#a30d0d"/>
<line x1="644.13" y1="96.99" x2="644.13" y2="96.09" stroke="#111" stroke-width="0.9"/>
<line x1="642.63" y1="96.09" x2="645.63" y2="96.09" stroke="#111" stroke-width="0.9"/>
<path d="M640.18 87.90L640.18 92.70M638.10 89.10L642.26 91.50M642.26 89.10L638.10 91.50M645.68 87.90L645.68 92.70M643.60 89.10L647.76 91.50M647.76 89.10L643.60 91.50" stroke="#444" stroke-width="1.0" fill="none"/>
<rect x="654.94" y="110.10" width="5.10" height="29.80" fill="#0d0d8a"/>
<line x1="657.49" y1="110.10" x2="657.49" y2="105.03" stroke="#111" stroke-width="0.9"/>
<line x1="655.99" y1="105.03" x2="658.99" y2="105.03" stroke="#111" stroke-width="0.9"/>
<rect x="660.04" y="115.46" width="5.10" height="24.44" fill="#a30d0d"/>
<line x1="662.59" y1="115.46" x2="662.59" y2="114.27" stroke="#111" stroke-width="0.9"/>
<line x1="661.09" y1="114.27" x2="664.09" y2="114.27" stroke="#111" stroke-width="0.9"/>
<line x1="486.20" y1="139.90" x2="667" y2="139.90" stroke="#111" stroke-width="2.0"/>
<line x1="493.90" y1="139.90" x2="493.90" y2="143.70" stroke="#111" stroke-width="1.7"/>
<text transform="translate(497.32,145.30) rotate(-90)" text-anchor="end" font-family="'Liberation Serif', serif" class="b" font-weight="bold" font-size="11.4" fill="#111">Erra</text>
<line x1="512.36" y1="139.90" x2="512.36" y2="143.70" stroke="#111" stroke-width="1.7"/>
<text transform="translate(515.78,145.30) rotate(-90)" text-anchor="end" font-family="'Liberation Serif', serif" class="b" font-weight="bold" font-size="11.4" fill="#111">Nrf1</text>
<line x1="530.82" y1="139.90" x2="530.82" y2="143.70" stroke="#111" stroke-width="1.7"/>
<text transform="translate(534.24,145.30) rotate(-90)" text-anchor="end" font-family="'Liberation Serif', serif" class="b" font-weight="bold" font-size="11.4" fill="#111">Nrf2</text>
<line x1="549.28" y1="139.90" x2="549.28" y2="143.70" stroke="#111" stroke-width="1.7"/>
<text transform="translate(552.70,145.30) rotate(-90)" text-anchor="end" font-family="'Liberation Serif', serif" class="b" font-weight="bold" font-size="11.4" fill="#111">Tfam</text>
<line x1="567.74" y1="139.90" x2="567.74" y2="143.70" stroke="#111" stroke-width="1.7"/>
<text transform="translate(571.16,145.30) rotate(-90)" text-anchor="end" font-family="'Liberation Serif', serif" class="b" font-weight="bold" font-size="11.4" fill="#111">Sirt3</text>
<line x1="586.20" y1="139.90" x2="586.20" y2="143.70" stroke="#111" stroke-width="1.7"/>
<text transform="translate(589.62,145.30) rotate(-90)" text-anchor="end" font-family="'Liberation Serif', serif" class="b" font-weight="bold" font-size="11.4" fill="#111">Sirt4</text>
<line x1="604.66" y1="139.90" x2="604.66" y2="143.70" stroke="#111" stroke-width="1.7"/>
<text transform="translate(608.08,145.30) rotate(-90)" text-anchor="end" font-family="'Liberation Serif', serif" class="b" font-weight="bold" font-size="11.4" fill="#111">Sirt5</text>
<line x1="623.12" y1="139.90" x2="623.12" y2="143.70" stroke="#111" stroke-width="1.7"/>
<text transform="translate(626.54,145.30) rotate(-90)" text-anchor="end" font-family="'Liberation Serif', serif" class="b" font-weight="bold" font-size="11.4" fill="#111">Ppar<tspan font-weight="normal" font-size="13.1">α</tspan></text>
<line x1="641.58" y1="139.90" x2="641.58" y2="143.70" stroke="#111" stroke-width="1.7"/>
<text transform="translate(645.00,145.30) rotate(-90)" text-anchor="end" font-family="'Liberation Serif', serif" class="b" font-weight="bold" font-size="11.4" fill="#111">Ppar<tspan font-weight="normal" font-size="13.1">β</tspan></text>
<line x1="660.04" y1="139.90" x2="660.04" y2="143.70" stroke="#111" stroke-width="1.7"/>
<text transform="translate(663.46,145.30) rotate(-90)" text-anchor="end" font-family="'Liberation Serif', serif" class="b" font-weight="bold" font-size="11.4" fill="#111">Ppar<tspan font-weight="normal" font-size="13.1">γ</tspan></text>
</g>
<g id="D">
<text x="209.4" y="187.4" font-family="'Liberation Serif', serif" font-weight="bold" font-size="10.6" fill="#111">D</text>
<line x1="245.50" y1="323.70" x2="245.50" y2="202.75" stroke="#111" stroke-width="1.8"/>
<line x1="241.10" y1="323.00" x2="245.50" y2="323.00" stroke="#111" stroke-width="1.5"/>
<text x="239.50" y="326.60" text-anchor="end" font-family="'Liberation Serif', serif" class="b" font-weight="bold" font-size="10.6" fill="#111">0.0</text>
<line x1="241.10" y1="298.95" x2="245.50" y2="298.95" stroke="#111" stroke-width="1.5"/>
<text x="239.50" y="302.55" text-anchor="end" font-family="'Liberation Serif', serif" class="b" font-weight="bold" font-size="10.6" fill="#111">0.5</text>
<line x1="241.10" y1="274.90" x2="245.50" y2="274.90" stroke="#111" stroke-width="1.5"/>
<text x="239.50" y="278.50" text-anchor="end" font-family="'Liberation Serif', serif" class="b" font-weight="bold" font-size="10.6" fill="#111">1.0</text>
<line x1="241.10" y1="250.85" x2="245.50" y2="250.85" stroke="#111" stroke-width="1.5"/>
<text x="239.50" y="254.45" text-anchor="end" font-family="'Liberation Serif', serif" class="b" font-weight="bold" font-size="10.6" fill="#111">1.5</text>
<line x1="241.10" y1="226.80" x2="245.50" y2="226.80" stroke="#111" stroke-width="1.5"/>
<text x="239.50" y="230.40" text-anchor="end" font-family="'Liberation Serif', serif" class="b" font-weight="bold" font-size="10.6" fill="#111">2.0</text>
<line x1="241.10" y1="202.75" x2="245.50" y2="202.75" stroke="#111" stroke-width="1.5"/>
<text x="239.50" y="206.35" text-anchor="end" font-family="'Liberation Serif', serif" class="b" font-weight="bold" font-size="10.6" fill="#111">2.5</text>
<text transform="translate(217.70,332.10) rotate(-90)" font-family="'Liberation Serif', serif" font-size="11.9" fill="#222">Relative mRNA expression</text>
<rect x="251.60" y="203.10" width="12.50" height="6.00" fill="#0d0d8a"/>
<rect x="251.60" y="216.40" width="12.50" height="6.00" fill="#a30d0d"/>
<text x="271.80" y="209.45" font-family="'Liberation Serif', serif" font-size="9.3" fill="#222">CTL</text>
<text x="271.80" y="222.75" font-family="'Liberation Serif', serif" font-size="9.3" fill="#222">SAV1 KD</text>
<path d="M263.00 274.05h1.7v1.7h-1.7zM267.60 274.05h1.7v1.7h-1.7zM272.20 274.05h1.7v1.7h-1.7zM276.80 274.05h1.7v1.7h-1.7zM281.40 274.05h1.7v1.7h-1.7zM286.00 274.05h1.7v1.7h-1.7zM290.60 274.05h1.7v1.7h-1.7zM295.20 274.05h1.7v1.7h-1.7zM299.80 274.05h1.7v1.7h-1.7zM304.40 274.05h1.7v1.7h-1.7zM309.00 274.05h1.7v1.7h-1.7zM313.60 274.05h1.7v1.7h-1.7zM318.20 274.05h1.7v1.7h-1.7zM322.80 274.05h1.7v1.7h-1.7zM327.40 274.05h1.7v1.7h-1.7zM332.00 274.05h1.7v1.7h-1.7zM336.60 274.05h1.7v1.7h-1.7zM341.20 274.05h1.7v1.7h-1.7zM345.80 274.05h1.7v1.7h-1.7zM350.40 274.05h1.7v1.7h-1.7zM355.00 274.05h1.7v1.7h-1.7zM359.60 274.05h1.7v1.7h-1.7zM364.20 274.05h1.7v1.7h-1.7zM368.80 274.05h1.7v1.7h-1.7zM373.40 274.05h1.7v1.7h-1.7zM378.00 274.05h1.7v1.7h-1.7zM382.60 274.05h1.7v1.7h-1.7zM387.20 274.05h1.7v1.7h-1.7zM391.80 274.05h1.7v1.7h-1.7zM396.40 274.05h1.7v1.7h-1.7zM401.00 274.05h1.7v1.7h-1.7zM405.60 274.05h1.7v1.7h-1.7zM410.20 274.05h1.7v1.7h-1.7zM414.80 274.05h1.7v1.7h-1.7zM419.40 274.05h1.7v1.7h-1.7zM424.00 274.05h1.7v1.7h-1.7z" fill="#111"/>
<rect x="247.70" y="274.90" width="6.00" height="48.10" fill="#0d0d8a"/>
<line x1="250.70" y1="274.90" x2="250.70" y2="273.94" stroke="#111" stroke-width="0.9"/>
<line x1="249.00" y1="273.94" x2="252.40" y2="273.94" stroke="#111" stroke-width="0.9"/>
<rect x="253.70" y="261.43" width="6.00" height="61.57" fill="#a30d0d"/>
<line x1="256.70" y1="261.43" x2="256.70" y2="258.55" stroke="#111" stroke-width="0.9"/>
<line x1="255.00" y1="258.55" x2="258.40" y2="258.55" stroke="#111" stroke-width="0.9"/>
<path d="M252.75 251.00L252.75 255.80M250.67 252.20L254.83 254.60M254.83 252.20L250.67 254.60M258.25 251.00L258.25 255.80M256.17 252.20L260.33 254.60M260.33 252.20L256.17 254.60" stroke="#444" stroke-width="1.0" fill="none"/>
<rect x="271.00" y="274.90" width="6.00" height="48.10" fill="#0d0d8a"/>
<line x1="274.00" y1="274.90" x2="274.00" y2="273.46" stroke="#111" stroke-width="0.9"/>
<line x1="272.30" y1="273.46" x2="275.70" y2="273.46" stroke="#111" stroke-width="0.9"/>
<rect x="277.00" y="272.50" width="6.00" height="50.50" fill="#a30d0d"/>
<line x1="280.00" y1="272.50" x2="280.00" y2="268.65" stroke="#111" stroke-width="0.9"/>
<line x1="278.30" y1="268.65" x2="281.70" y2="268.65" stroke="#111" stroke-width="0.9"/>
<rect x="294.30" y="274.90" width="6.00" height="48.10" fill="#0d0d8a"/>
<line x1="297.30" y1="274.90" x2="297.30" y2="274.42" stroke="#111" stroke-width="0.9"/>
<line x1="295.60" y1="274.42" x2="299.00" y2="274.42" stroke="#111" stroke-width="0.9"/>
<rect x="300.30" y="257.10" width="6.00" height="65.90" fill="#a30d0d"/>
<line x1="303.30" y1="257.10" x2="303.30" y2="254.70" stroke="#111" stroke-width="0.9"/>
<line x1="301.60" y1="254.70" x2="305.00" y2="254.70" stroke="#111" stroke-width="0.9"/>
<path d="M299.35 244.30L299.35 249.10M297.27 245.50L301.43 247.90M301.43 245.50L297.27 247.90M304.85 244.30L304.85 249.10M302.77 245.50L306.93 247.90M306.93 245.50L302.77 247.90" stroke="#444" stroke-width="1.0" fill="none"/>
<rect x="317.60" y="274.90" width="6.00" height="48.10" fill="#0d0d8a"/>
<line x1="320.60" y1="274.90" x2="320.60" y2="273.94" stroke="#111" stroke-width="0.9"/>
<line x1="318.90" y1="273.94" x2="322.30" y2="273.94" stroke="#111" stroke-width="0.9"/>
<rect x="323.60" y="240.27" width="6.00" height="82.73" fill="#a30d0d"/>
<line x1="326.60" y1="240.27" x2="326.60" y2="239.31" stroke="#111" stroke-width="0.9"/>
<line x1="324.90" y1="239.31" x2="328.30" y2="239.31" stroke="#111" stroke-width="0.9"/>
<path d="M319.90 231.60L319.90 236.40M317.82 232.80L321.98 235.20M321.98 232.80L317.82 235.20M325.40 231.60L325.40 236.40M323.32 232.80L327.48 235.20M327.48 232.80L323.32 235.20M330.90 231.60L330.90 236.40M328.82 232.80L332.98 235.20M332.98 232.80L328.82 235.20" stroke="#444" stroke-width="1.0" fill="none"/>
<rect x="340.90" y="274.90" width="6.00" height="48.10" fill="#0d0d8a"/>
<line x1="343.90" y1="274.90" x2="343.90" y2="272.50" stroke="#111" stroke-width="0.9"/>
<line x1="342.20" y1="272.50" x2="345.60" y2="272.50" stroke="#111" stroke-width="0.9"/>
<rect x="346.90" y="230.17" width="6.00" height="92.83" fill="#a30d0d"/>
<line x1="349.90" y1="230.17" x2="349.90" y2="222.47" stroke="#111" stroke-width="0.9"/>
<line x1="348.20" y1="222.47" x2="351.60" y2="222.47" stroke="#111" stroke-width="0.9"/>
<path d="M345.95 215.10L345.95 219.90M343.87 216.30L348.03 218.70M348.03 216.30L343.87 218.70M351.45 215.10L351.45 219.90M349.37 216.30L353.53 218.70M353.53 216.30L349.37 218.70" stroke="#444" stroke-width="1.0" fill="none"/>
<rect x="364.20" y="274.90" width="6.00" height="48.10" fill="#0d0d8a"/>
<line x1="367.20" y1="274.90" x2="367.20" y2="273.46" stroke="#111" stroke-width="0.9"/>
<line x1="365.50" y1="273.46" x2="368.90" y2="273.46" stroke="#111" stroke-width="0.9"/>
<rect x="370.20" y="242.19" width="6.00" height="80.81" fill="#a30d0d"/>
<line x1="373.20" y1="242.19" x2="373.20" y2="241.71" stroke="#111" stroke-width="0.9"/>
<line x1="371.50" y1="241.71" x2="374.90" y2="241.71" stroke="#111" stroke-width="0.9"/>
<path d="M366.50 234.00L366.50 238.80M364.42 235.20L368.58 237.60M368.58 235.20L364.42 237.60M372.00 234.00L372.00 238.80M369.92 235.20L374.08 237.60M374.08 235.20L369.92 237.60M377.50 234.00L377.50 238.80M375.42 235.20L379.58 237.60M379.58 235.20L375.42 237.60" stroke="#444" stroke-width="1.0" fill="none"/>
<rect x="387.50" y="274.90" width="6.00" height="48.10" fill="#0d0d8a"/>
<line x1="390.50" y1="274.90" x2="390.50" y2="270.09" stroke="#111" stroke-width="0.9"/>
<line x1="388.80" y1="270.09" x2="392.20" y2="270.09" stroke="#111" stroke-width="0.9"/>
<rect x="393.50" y="241.23" width="6.00" height="81.77" fill="#a30d0d"/>
<line x1="396.50" y1="241.23" x2="396.50" y2="239.79" stroke="#111" stroke-width="0.9"/>
<line x1="394.80" y1="239.79" x2="398.20" y2="239.79" stroke="#111" stroke-width="0.9"/>
<path d="M389.80 231.60L389.80 236.40M387.72 232.80L391.88 235.20M391.88 232.80L387.72 235.20M395.30 231.60L395.30 236.40M393.22 232.80L397.38 235.20M397.38 232.80L393.22 235.20M400.80 231.60L400.80 236.40M398.72 232.80L402.88 235.20M402.88 232.80L398.72 235.20" stroke="#444" stroke-width="1.0" fill="none"/>
<rect x="410.80" y="274.90" width="6.00" height="48.10" fill="#0d0d8a"/>
<line x1="413.80" y1="274.90" x2="413.80" y2="271.53" stroke="#111" stroke-width="0.9"/>
<line x1="412.10" y1="271.53" x2="415.50" y2="271.53" stroke="#111" stroke-width="0.9"/>
<rect x="416.80" y="257.58" width="6.00" height="65.42" fill="#a30d0d"/>
<line x1="419.80" y1="257.58" x2="419.80" y2="254.22" stroke="#111" stroke-width="0.9"/>
<line x1="418.10" y1="254.22" x2="421.50" y2="254.22" stroke="#111" stroke-width="0.9"/>
<path d="M415.85 245.90L415.85 250.70M413.77 247.10L417.93 249.50M417.93 247.10L413.77 249.50M421.35 245.90L421.35 250.70M419.27 247.10L423.43 249.50M423.43 247.10L419.27 249.50" stroke="#444" stroke-width="1.0" fill="none"/>
<line x1="244.60" y1="323.00" x2="426.2" y2="323.00" stroke="#111" stroke-width="2.0"/>
<line x1="253.70" y1="323.00" x2="253.70" y2="326.30" stroke="#111" stroke-width="1.7"/>
<text transform="translate(257.06,328.60) rotate(-90)" text-anchor="end" font-family="'Liberation Serif', serif" class="b" font-weight="bold" font-size="11.2" fill="#111">Sdha</text>
<line x1="277.00" y1="323.00" x2="277.00" y2="326.30" stroke="#111" stroke-width="1.7"/>
<text transform="translate(280.36,328.60) rotate(-90)" text-anchor="end" font-family="'Liberation Serif', serif" class="b" font-weight="bold" font-size="11.2" fill="#111">Uqcrb</text>
<line x1="300.30" y1="323.00" x2="300.30" y2="326.30" stroke="#111" stroke-width="1.7"/>
<text transform="translate(303.66,328.60) rotate(-90)" text-anchor="end" font-family="'Liberation Serif', serif" class="b" font-weight="bold" font-size="11.2" fill="#111">Cox1</text>
<line x1="323.60" y1="323.00" x2="323.60" y2="326.30" stroke="#111" stroke-width="1.7"/>
<text transform="translate(326.96,328.60) rotate(-90)" text-anchor="end" font-family="'Liberation Serif', serif" class="b" font-weight="bold" font-size="11.2" fill="#111">Hif1<tspan font-weight="normal" font-size="11.2">α</tspan></text>
<line x1="346.90" y1="323.00" x2="346.90" y2="326.30" stroke="#111" stroke-width="1.7"/>
<text transform="translate(350.26,328.60) rotate(-90)" text-anchor="end" font-family="'Liberation Serif', serif" class="b" font-weight="bold" font-size="11.2" fill="#111">Hif2<tspan font-weight="normal" font-size="11.2">α</tspan></text>
<line x1="370.20" y1="323.00" x2="370.20" y2="326.30" stroke="#111" stroke-width="1.7"/>
<text transform="translate(373.56,328.60) rotate(-90)" text-anchor="end" font-family="'Liberation Serif', serif" class="b" font-weight="bold" font-size="11.2" fill="#111">Hk2</text>
<line x1="393.50" y1="323.00" x2="393.50" y2="326.30" stroke="#111" stroke-width="1.7"/>
<text transform="translate(396.86,328.60) rotate(-90)" text-anchor="end" font-family="'Liberation Serif', serif" class="b" font-weight="bold" font-size="11.2" fill="#111">Pkm</text>
<line x1="416.80" y1="323.00" x2="416.80" y2="326.30" stroke="#111" stroke-width="1.7"/>
<text transform="translate(420.16,328.60) rotate(-90)" text-anchor="end" font-family="'Liberation Serif', serif" class="b" font-weight="bold" font-size="11.2" fill="#111">Pfkm</text>
</g>
<g id="E">
<text x="448.0" y="187.6" font-family="'Liberation Serif', serif" font-weight="bold" font-size="10.6" fill="#111">E</text>
<line x1="488.70" y1="316.20" x2="488.70" y2="203.75" stroke="#111" stroke-width="1.8"/>
<line x1="484.50" y1="315.50" x2="488.70" y2="315.50" stroke="#111" stroke-width="1.5"/>
<text x="482.30" y="318.97" text-anchor="end" font-family="'Liberation Serif', serif" class="b" font-weight="bold" font-size="10.2" fill="#111">0.0</text>
<line x1="484.50" y1="293.15" x2="488.70" y2="293.15" stroke="#111" stroke-width="1.5"/>
<text x="482.30" y="296.62" text-anchor="end" font-family="'Liberation Serif', serif" class="b" font-weight="bold" font-size="10.2" fill="#111">0.5</text>
<line x1="484.50" y1="270.80" x2="488.70" y2="270.80" stroke="#111" stroke-width="1.5"/>
<text x="482.30" y="274.27" text-anchor="end" font-family="'Liberation Serif', serif" class="b" font-weight="bold" font-size="10.2" fill="#111">1.0</text>
<line x1="484.50" y1="248.45" x2="488.70" y2="248.45" stroke="#111" stroke-width="1.5"/>
<text x="482.30" y="251.92" text-anchor="end" font-family="'Liberation Serif', serif" class="b" font-weight="bold" font-size="10.2" fill="#111">1.5</text>
<line x1="484.50" y1="226.10" x2="488.70" y2="226.10" stroke="#111" stroke-width="1.5"/>
<text x="482.30" y="229.57" text-anchor="end" font-family="'Liberation Serif', serif" class="b" font-weight="bold" font-size="10.2" fill="#111">2.0</text>
<line x1="484.50" y1="203.75" x2="488.70" y2="203.75" stroke="#111" stroke-width="1.5"/>
<text x="482.30" y="207.22" text-anchor="end" font-family="'Liberation Serif', serif" class="b" font-weight="bold" font-size="10.2" fill="#111">2.5</text>
<text transform="translate(460.00,327.50) rotate(-90)" font-family="'Liberation Serif', serif" font-size="11.6" fill="#222">Relative mRNA expression</text>
<rect x="494.50" y="207.50" width="12.50" height="5.30" fill="#0d0d8a"/>
<rect x="494.50" y="220.00" width="12.50" height="5.30" fill="#a30d0d"/>
<text x="513.70" y="213.43" font-family="'Liberation Serif', serif" font-size="9.1" fill="#222">CTL</text>
<text x="513.70" y="225.93" font-family="'Liberation Serif', serif" font-size="9.1" fill="#222">SAV1 KD</text>
<path d="M505.00 269.95h1.7v1.7h-1.7zM509.50 269.95h1.7v1.7h-1.7zM514.00 269.95h1.7v1.7h-1.7zM518.50 269.95h1.7v1.7h-1.7zM523.00 269.95h1.7v1.7h-1.7zM527.50 269.95h1.7v1.7h-1.7zM532.00 269.95h1.7v1.7h-1.7zM536.50 269.95h1.7v1.7h-1.7zM541.00 269.95h1.7v1.7h-1.7zM545.50 269.95h1.7v1.7h-1.7zM550.00 269.95h1.7v1.7h-1.7zM554.50 269.95h1.7v1.7h-1.7zM559.00 269.95h1.7v1.7h-1.7zM563.50 269.95h1.7v1.7h-1.7zM568.00 269.95h1.7v1.7h-1.7zM572.50 269.95h1.7v1.7h-1.7zM577.00 269.95h1.7v1.7h-1.7zM581.50 269.95h1.7v1.7h-1.7zM586.00 269.95h1.7v1.7h-1.7zM590.50 269.95h1.7v1.7h-1.7zM595.00 269.95h1.7v1.7h-1.7zM599.50 269.95h1.7v1.7h-1.7zM604.00 269.95h1.7v1.7h-1.7zM608.50 269.95h1.7v1.7h-1.7zM613.00 269.95h1.7v1.7h-1.7zM617.50 269.95h1.7v1.7h-1.7zM622.00 269.95h1.7v1.7h-1.7zM626.50 269.95h1.7v1.7h-1.7zM631.00 269.95h1.7v1.7h-1.7zM635.50 269.95h1.7v1.7h-1.7zM640.00 269.95h1.7v1.7h-1.7zM644.50 269.95h1.7v1.7h-1.7zM649.00 269.95h1.7v1.7h-1.7zM653.50 269.95h1.7v1.7h-1.7zM658.00 269.95h1.7v1.7h-1.7z" fill="#111"/>
<rect x="491.80" y="270.80" width="6.10" height="44.70" fill="#0d0d8a"/>
<line x1="494.85" y1="270.80" x2="494.85" y2="269.91" stroke="#111" stroke-width="0.9"/>
<line x1="493.15" y1="269.91" x2="496.55" y2="269.91" stroke="#111" stroke-width="0.9"/>
<rect x="497.90" y="267.67" width="6.10" height="47.83" fill="#a30d0d"/>
<line x1="500.95" y1="267.67" x2="500.95" y2="267.22" stroke="#111" stroke-width="0.9"/>
<line x1="499.25" y1="267.22" x2="502.65" y2="267.22" stroke="#111" stroke-width="0.9"/>
<path d="M500.95 258.60L500.95 263.40M498.87 259.80L503.03 262.20M503.03 259.80L498.87 262.20" stroke="#444" stroke-width="1.0" fill="none"/>
<rect x="516.90" y="270.80" width="6.10" height="44.70" fill="#0d0d8a"/>
<line x1="519.95" y1="270.80" x2="519.95" y2="269.46" stroke="#111" stroke-width="0.9"/>
<line x1="518.25" y1="269.46" x2="521.65" y2="269.46" stroke="#111" stroke-width="0.9"/>
<rect x="523.00" y="248.45" width="6.10" height="67.05" fill="#a30d0d"/>
<line x1="526.05" y1="248.45" x2="526.05" y2="245.77" stroke="#111" stroke-width="0.9"/>
<line x1="524.35" y1="245.77" x2="527.75" y2="245.77" stroke="#111" stroke-width="0.9"/>
<path d="M523.30 238.60L523.30 243.40M521.22 239.80L525.38 242.20M525.38 239.80L521.22 242.20M528.80 238.60L528.80 243.40M526.72 239.80L530.88 242.20M530.88 239.80L526.72 242.20" stroke="#444" stroke-width="1.0" fill="none"/>
<rect x="542.00" y="270.80" width="6.10" height="44.70" fill="#0d0d8a"/>
<line x1="545.05" y1="270.80" x2="545.05" y2="269.01" stroke="#111" stroke-width="0.9"/>
<line x1="543.35" y1="269.01" x2="546.75" y2="269.01" stroke="#111" stroke-width="0.9"/>
<rect x="548.10" y="256.05" width="6.10" height="59.45" fill="#a30d0d"/>
<line x1="551.15" y1="256.05" x2="551.15" y2="252.47" stroke="#111" stroke-width="0.9"/>
<line x1="549.45" y1="252.47" x2="552.85" y2="252.47" stroke="#111" stroke-width="0.9"/>
<path d="M548.40 245.00L548.40 249.80M546.32 246.20L550.48 248.60M550.48 246.20L546.32 248.60M553.90 245.00L553.90 249.80M551.82 246.20L555.98 248.60M555.98 246.20L551.82 248.60" stroke="#444" stroke-width="1.0" fill="none"/>
<rect x="567.10" y="270.80" width="6.10" height="44.70" fill="#0d0d8a"/>
<line x1="570.15" y1="270.80" x2="570.15" y2="270.35" stroke="#111" stroke-width="0.9"/>
<line x1="568.45" y1="270.35" x2="571.85" y2="270.35" stroke="#111" stroke-width="0.9"/>
<rect x="573.20" y="291.36" width="6.10" height="24.14" fill="#a30d0d"/>
<line x1="576.25" y1="291.36" x2="576.25" y2="290.92" stroke="#111" stroke-width="0.9"/>
<line x1="574.55" y1="290.92" x2="577.95" y2="290.92" stroke="#111" stroke-width="0.9"/>
<path d="M566.40 261.30L566.40 266.10M564.32 262.50L568.48 264.90M568.48 262.50L564.32 264.90M571.90 261.30L571.90 266.10M569.82 262.50L573.98 264.90M573.98 262.50L569.82 264.90" stroke="#444" stroke-width="1.0" fill="none"/>
<rect x="592.20" y="270.80" width="6.10" height="44.70" fill="#0d0d8a"/>
<line x1="595.25" y1="270.80" x2="595.25" y2="270.35" stroke="#111" stroke-width="0.9"/>
<line x1="593.55" y1="270.35" x2="596.95" y2="270.35" stroke="#111" stroke-width="0.9"/>
<rect x="598.30" y="231.02" width="6.10" height="84.48" fill="#a30d0d"/>
<line x1="601.35" y1="231.02" x2="601.35" y2="230.12" stroke="#111" stroke-width="0.9"/>
<line x1="599.65" y1="230.12" x2="603.05" y2="230.12" stroke="#111" stroke-width="0.9"/>
<path d="M598.60 222.10L598.60 226.90M596.52 223.30L600.68 225.70M600.68 223.30L596.52 225.70M604.10 222.10L604.10 226.90M602.02 223.30L606.18 225.70M606.18 223.30L602.02 225.70" stroke="#444" stroke-width="1.0" fill="none"/>
<rect x="617.30" y="270.80" width="6.10" height="44.70" fill="#0d0d8a"/>
<line x1="620.35" y1="270.80" x2="620.35" y2="270.35" stroke="#111" stroke-width="0.9"/>
<line x1="618.65" y1="270.35" x2="622.05" y2="270.35" stroke="#111" stroke-width="0.9"/>
<rect x="623.40" y="263.20" width="6.10" height="52.30" fill="#a30d0d"/>
<line x1="626.45" y1="263.20" x2="626.45" y2="260.52" stroke="#111" stroke-width="0.9"/>
<line x1="624.75" y1="260.52" x2="628.15" y2="260.52" stroke="#111" stroke-width="0.9"/>
<path d="M623.70 253.40L623.70 258.20M621.62 254.60L625.78 257.00M625.78 254.60L621.62 257.00M629.20 253.40L629.20 258.20M627.12 254.60L631.28 257.00M631.28 254.60L627.12 257.00" stroke="#444" stroke-width="1.0" fill="none"/>
<rect x="642.40" y="270.80" width="6.10" height="44.70" fill="#0d0d8a"/>
<line x1="645.45" y1="270.80" x2="645.45" y2="270.35" stroke="#111" stroke-width="0.9"/>
<line x1="643.75" y1="270.35" x2="647.15" y2="270.35" stroke="#111" stroke-width="0.9"/>
<rect x="648.50" y="263.20" width="6.10" height="52.30" fill="#a30d0d"/>
<line x1="651.55" y1="263.20" x2="651.55" y2="262.75" stroke="#111" stroke-width="0.9"/>
<line x1="649.85" y1="262.75" x2="653.25" y2="262.75" stroke="#111" stroke-width="0.9"/>
<path d="M648.80 253.40L648.80 258.20M646.72 254.60L650.88 257.00M650.88 254.60L646.72 257.00M654.30 253.40L654.30 258.20M652.22 254.60L656.38 257.00M656.38 254.60L652.22 257.00" stroke="#444" stroke-width="1.0" fill="none"/>
<line x1="487.80" y1="315.50" x2="660.2" y2="315.50" stroke="#111" stroke-width="2.0"/>
<line x1="497.90" y1="315.50" x2="497.90" y2="318.80" stroke="#111" stroke-width="1.7"/>
<text transform="translate(501.26,320.50) rotate(-90)" text-anchor="end" font-family="'Liberation Serif', serif" class="b" font-weight="bold" font-size="11.2" fill="#111">Cat</text>
<line x1="523.00" y1="315.50" x2="523.00" y2="318.80" stroke="#111" stroke-width="1.7"/>
<text transform="translate(526.36,320.50) rotate(-90)" text-anchor="end" font-family="'Liberation Serif', serif" class="b" font-weight="bold" font-size="11.2" fill="#111">Sod2</text>
<line x1="548.10" y1="315.50" x2="548.10" y2="318.80" stroke="#111" stroke-width="1.7"/>
<text transform="translate(551.46,320.50) rotate(-90)" text-anchor="end" font-family="'Liberation Serif', serif" class="b" font-weight="bold" font-size="11.2" fill="#111">Gpx1</text>
<line x1="573.20" y1="315.50" x2="573.20" y2="318.80" stroke="#111" stroke-width="1.7"/>
<text transform="translate(576.56,320.50) rotate(-90)" text-anchor="end" font-family="'Liberation Serif', serif" class="b" font-weight="bold" font-size="11.2" fill="#111">Prdx3</text>
<line x1="598.30" y1="315.50" x2="598.30" y2="318.80" stroke="#111" stroke-width="1.7"/>
<text transform="translate(601.66,320.50) rotate(-90)" text-anchor="end" font-family="'Liberation Serif', serif" class="b" font-weight="bold" font-size="11.2" fill="#111">Prdx5</text>
<line x1="623.40" y1="315.50" x2="623.40" y2="318.80" stroke="#111" stroke-width="1.7"/>
<text transform="translate(626.76,320.50) rotate(-90)" text-anchor="end" font-family="'Liberation Serif', serif" class="b" font-weight="bold" font-size="11.2" fill="#111">Txn2</text>
<line x1="648.50" y1="315.50" x2="648.50" y2="318.80" stroke="#111" stroke-width="1.7"/>
<text transform="translate(651.86,320.50) rotate(-90)" text-anchor="end" font-family="'Liberation Serif', serif" class="b" font-weight="bold" font-size="11.2" fill="#111">Txnrd2</text>
</g>
</svg>
</body></html>
